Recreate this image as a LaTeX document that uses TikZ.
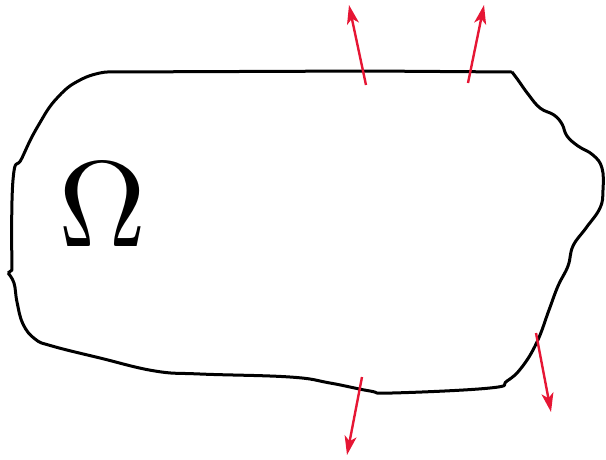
\documentclass[tikz,border=0pt]{standalone}
\usepackage{tikz}
\usetikzlibrary{arrows.meta}
\definecolor{NormalRed}{RGB}{230,22,52}

\begin{document}
\begin{tikzpicture}[x=1pt, y=-1pt,
  every node/.style={inner sep=0pt},
  boundary/.style={line width=3pt, line join=round, black},
  normal/.style={-{Stealth[length=19pt, width=12pt, inset=5pt]}, line width=2.4pt, NormalRed}]
  \useasboundingbox (0,0) rectangle (606,459);
  \node[scale=12.2] (omega) at (103,205) {$\Omega$};
  % the domain
  \draw[boundary] (512,72) -- (370,71) -- (106,72)
    plot[smooth, tension=0.8] coordinates {(106,72) (82,79) (58,97) (38,126) (22,158) (13,180) (12,270)}
    -- (8,273)
    plot[smooth, tension=0.7] coordinates {(8,273) (14,283) (17,302) (23,324) (35,339) (52,346) (100,358) (155,371) (200,374) (290,377) (330,383) (370,391) (392,393) (490,388) (507,381) (522,367) (537,342) (549,310) (558,286) (568,266) (573,246) (586,228) (600,208) (603,190) (602,168) (593,155) (578,146) (567,136) (562,124) (554,115) (540,108) (528,94) (518,80) (512,72)};
  % outward normals
  \coordinate (n1s) at (366,85);  \coordinate (n1e) at (349,5);
  \coordinate (n2s) at (468,83);  \coordinate (n2e) at (484,5);
  \coordinate (n3s) at (362,377); \coordinate (n3e) at (347,455);
  \coordinate (n4s) at (536,333); \coordinate (n4e) at (551,412);
  \draw[normal] (n1s) -- (n1e);
  \draw[normal] (n2s) -- (n2e);
  \draw[normal] (n3s) -- (n3e);
  \draw[normal] (n4s) -- (n4e);
\end{tikzpicture}
\end{document}
